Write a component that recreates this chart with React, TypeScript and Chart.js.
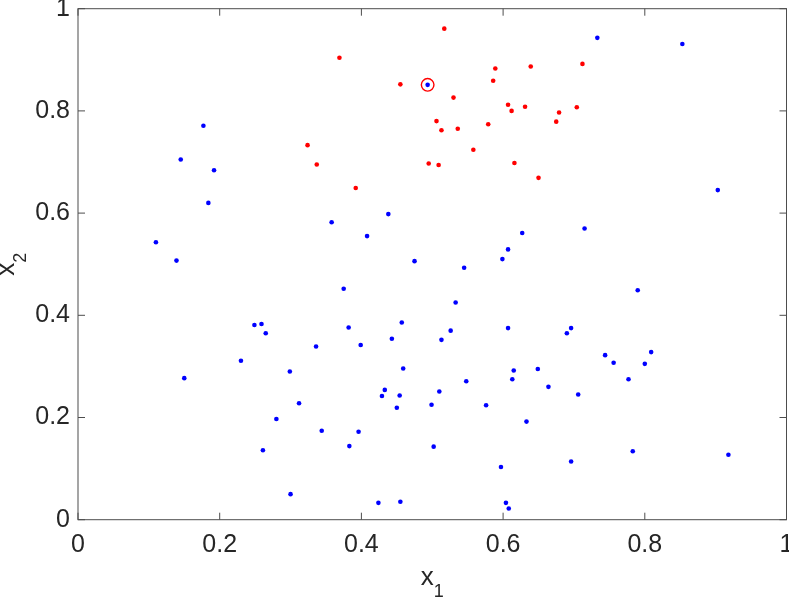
import React, { useEffect, useRef } from "react";
import { Chart, registerables } from "chart.js";

Chart.register(...registerables);

const blueX = [
  0.177, 0.145, 0.192, 0.184, 0.110, 0.139, 0.358, 0.408, 0.438, 0.375,
  0.733, 0.853, 0.903, 0.715, 0.627, 0.607, 0.599, 0.475, 0.545, 0.790,
  0.249, 0.259, 0.265, 0.230, 0.150, 0.336, 0.299, 0.382, 0.399, 0.443,
  0.312, 0.280, 0.344, 0.396, 0.383, 0.261, 0.300, 0.424, 0.429, 0.433,
  0.450, 0.454, 0.457, 0.455, 0.533, 0.526, 0.513, 0.607, 0.690, 0.696,
  0.459, 0.510, 0.499, 0.548, 0.576, 0.615, 0.613, 0.649, 0.664, 0.706,
  0.633, 0.744, 0.756, 0.809, 0.800, 0.777, 0.502, 0.597, 0.696, 0.783,
  0.918, 0.604, 0.608,
];
const blueY = [
  0.771, 0.705, 0.684, 0.620, 0.543, 0.507, 0.582, 0.555, 0.598, 0.452,
  0.943, 0.931, 0.645, 0.570, 0.561, 0.529, 0.510, 0.506, 0.493, 0.449,
  0.381, 0.383, 0.365, 0.311, 0.277, 0.339, 0.290, 0.376, 0.342, 0.354,
  0.228, 0.197, 0.174, 0.172, 0.144, 0.136, 0.050, 0.033, 0.242, 0.254,
  0.219, 0.243, 0.386, 0.035, 0.425, 0.370, 0.352, 0.375, 0.365, 0.375,
  0.296, 0.251, 0.225, 0.271, 0.224, 0.292, 0.275, 0.295, 0.260, 0.245,
  0.192, 0.322, 0.307, 0.328, 0.305, 0.275, 0.143, 0.103, 0.114, 0.134,
  0.127, 0.033, 0.022,
];
const redX = [
  0.369, 0.324, 0.337, 0.392, 0.517, 0.455, 0.589, 0.586, 0.639, 0.712,
  0.530, 0.607, 0.612, 0.631, 0.679, 0.704, 0.675, 0.506, 0.513, 0.536,
  0.579, 0.558, 0.495, 0.509, 0.616, 0.650,
];
const redY = [
  0.904, 0.733, 0.695, 0.649, 0.961, 0.852, 0.883, 0.859, 0.887, 0.892,
  0.826, 0.812, 0.800, 0.808, 0.797, 0.807, 0.779, 0.780, 0.762, 0.765,
  0.774, 0.724, 0.697, 0.694, 0.698, 0.669,
];
const highlightX = [0.4935];
const highlightY = [0.851];

const xTicks = [0, 0.2, 0.4, 0.6, 0.8, 1];
const yTicks = [0, 0.2, 0.4, 0.6, 0.8, 1];
const xLabel = ["x", "1"];
const yLabel = ["x", "2"];

const FONT = '"Liberation Sans", Arial, Helvetica, sans-serif';
const TEXT = "#262626";

const toPts = (xs: number[], ys: number[]) => xs.map((x, i) => ({ x, y: ys[i] }));
const fmt = (v: number) => String(Math.round(v * 10) / 10);

const axesPlugin = {
  id: "matlabAxes",
  afterDraw(chart: any) {
    const { ctx, chartArea: a, scales } = chart;
    const xs = scales.x;
    const ys = scales.y;
    ctx.save();
    ctx.strokeStyle = "#4d4d4d";
    ctx.lineWidth = 1;
    ctx.strokeRect(a.left, a.top, a.right - a.left, a.bottom - a.top);
    const tl = 7;
    ctx.beginPath();
    xTicks.forEach((v) => {
      const px = xs.getPixelForValue(v);
      ctx.moveTo(px, a.bottom);
      ctx.lineTo(px, a.bottom - tl);
      ctx.moveTo(px, a.top);
      ctx.lineTo(px, a.top + tl);
    });
    yTicks.forEach((v) => {
      const py = ys.getPixelForValue(v);
      ctx.moveTo(a.left, py);
      ctx.lineTo(a.left + tl, py);
      ctx.moveTo(a.right, py);
      ctx.lineTo(a.right - tl, py);
    });
    ctx.stroke();

    // axis labels with subscripts
    ctx.fillStyle = TEXT;
    ctx.textBaseline = "alphabetic";
    ctx.textAlign = "left";
    const big = `26px ${FONT}`;
    const small = `18px ${FONT}`;
    ctx.font = big;
    const wx = ctx.measureText(xLabel[0]).width;
    ctx.font = small;
    const w1 = ctx.measureText(xLabel[1]).width;
    const cx = (a.left + a.right) / 2;
    const startX = cx - (wx + w1) / 2;
    ctx.font = big;
    ctx.fillText(xLabel[0], startX, 585);
    ctx.font = small;
    ctx.fillText(xLabel[1], startX + wx, 597);

    ctx.font = big;
    const wy = ctx.measureText(yLabel[0]).width;
    ctx.font = small;
    const w2 = ctx.measureText(yLabel[1]).width;
    const cy = (a.top + a.bottom) / 2;
    ctx.translate(14, cy + (wy + w2) / 2);
    ctx.rotate(-Math.PI / 2);
    ctx.font = big;
    ctx.fillText(yLabel[0], 0, 0);
    ctx.font = small;
    ctx.fillText(yLabel[1], wy, 12);
    ctx.restore();
  },
};

export default function App() {
  const ref = useRef<HTMLCanvasElement | null>(null);
  useEffect(() => {
    if (!ref.current) return;
    const chart = new Chart(ref.current, {
      type: "scatter",
      data: {
        datasets: [
          {
            data: toPts(blueX, blueY),
            backgroundColor: "#0000ff",
            borderWidth: 0,
            pointRadius: 2.3,
          },
          {
            data: toPts(highlightX, highlightY),
            backgroundColor: "#0000ff",
            borderWidth: 0,
            pointRadius: 2.3,
          },
          {
            data: toPts(redX, redY),
            backgroundColor: "#ff0000",
            borderWidth: 0,
            pointRadius: 2.3,
          },
          {
            data: toPts(highlightX, highlightY),
            backgroundColor: "rgba(0,0,0,0)",
            borderColor: "#ff0000",
            borderWidth: 1.4,
            pointRadius: 6.3,
          },
        ],
      },
      options: {
        responsive: false,
        animation: false,
        layout: { autoPadding: false, padding: { top: 8.7, right: 2.5, left: 0, bottom: 0 } },
        plugins: { legend: { display: false }, tooltip: { enabled: false } },
        scales: {
          x: {
            type: "linear",
            min: 0,
            max: 1,
            afterBuildTicks: (s: any) => {
              s.ticks = xTicks.map((v) => ({ value: v }));
            },
            afterFit: (s: any) => {
              s.height = 77.3;
              s.paddingLeft = 0;
              s.paddingRight = 0;
            },
            grid: { display: false, drawTicks: false },
            border: { display: false },
            ticks: {
              callback: (v: any) => fmt(Number(v)),
              font: { family: FONT, size: 25 },
              color: TEXT,
              padding: 10,
              maxRotation: 0,
              autoSkip: false,
            },
          },
          y: {
            type: "linear",
            min: 0,
            max: 1,
            afterBuildTicks: (s: any) => {
              s.ticks = yTicks.map((v) => ({ value: v }));
            },
            afterFit: (s: any) => {
              s.width = 78;
              s.paddingTop = 0;
              s.paddingBottom = 0;
            },
            grid: { display: false, drawTicks: false },
            border: { display: false },
            ticks: {
              callback: (v: any) => fmt(Number(v)),
              font: { family: FONT, size: 25 },
              color: TEXT,
              padding: 8,
              autoSkip: false,
            },
          },
        },
      },
      plugins: [axesPlugin],
    });
    return () => chart.destroy();
  }, []);
  return (
    <div style={{ position: "fixed", left: 0, top: 0, width: 789, height: 597, background: "#fff" }}>
      <canvas ref={ref} width={789} height={597} style={{ display: "block" }} />
    </div>
  );
}
